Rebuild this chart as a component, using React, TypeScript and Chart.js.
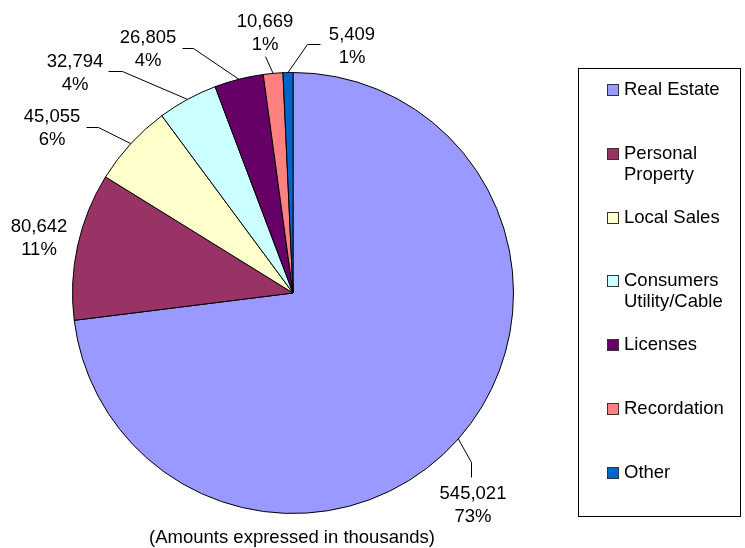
import React, { useEffect, useRef } from "react";
import { Chart, registerables } from "chart.js";

Chart.register(...registerables);

// Revenue categories and amounts (in thousands)
const categories: string[][] = [
  ["Real Estate"],
  ["Personal", "Property"],
  ["Local Sales"],
  ["Consumers", "Utility/Cable"],
  ["Licenses"],
  ["Recordation"],
  ["Other"],
];
const amounts: number[] = [545021, 80642, 45055, 32794, 26805, 10669, 5409];
const sliceColors: string[] = [
  "#9999FF",
  "#993366",
  "#FFFFCC",
  "#CCFFFF",
  "#660066",
  "#FF8080",
  "#0066CC",
];
const footnote = "(Amounts expressed in thousands)";

// Where each value label sits, plus the bend points of its leader line
type LabelSpot = { x: number; y: number; path: [number, number][] };
const labelSpots: LabelSpot[] = [
  { x: 473, y: 505, path: [[471, 462], [471, 477]] },
  { x: 39, y: 238, path: [] },
  { x: 52, y: 128, path: [[98, 127], [86, 127]] },
  { x: 75, y: 73, path: [[122, 71], [108, 71]] },
  { x: 148, y: 49, path: [[193, 48], [182, 48]] },
  { x: 265, y: 33, path: [[265, 56]] },
  { x: 352, y: 46, path: [[307, 44], [320, 44]] },
];

const FONT = "18.5px 'Liberation Sans', Arial, sans-serif";
const fmt = (v: number) => v.toLocaleString("en-US");

const overlayPlugin = {
  id: "overlay",
  afterDraw(chart: any) {
    const ctx: CanvasRenderingContext2D = chart.ctx;
    const meta = chart.getDatasetMeta(0);
    const data: number[] = chart.data.datasets[0].data;
    const total = data.reduce((a, b) => a + b, 0);
    ctx.save();
    ctx.font = FONT;
    ctx.fillStyle = "#000";
    ctx.textAlign = "center";
    ctx.textBaseline = "middle";

    meta.data.forEach((arc: any, i: number) => {
      const { x, y, outerRadius, startAngle, endAngle } = arc.getProps(
        ["x", "y", "outerRadius", "startAngle", "endAngle"],
        true
      );
      const mid = (startAngle + endAngle) / 2;
      const ex = x + Math.cos(mid) * outerRadius;
      const ey = y + Math.sin(mid) * outerRadius;
      const spot = labelSpots[i];
      if (spot.path.length) {
        ctx.beginPath();
        ctx.strokeStyle = "#000";
        ctx.lineWidth = 1;
        ctx.moveTo(ex, ey);
        spot.path.forEach(([px, py]) => ctx.lineTo(px + 0.5, py + 0.5));
        ctx.stroke();
      }
      const pct = Math.round((data[i] / total) * 100) + "%";
      ctx.fillText(fmt(data[i]), spot.x, spot.y - 11.5);
      ctx.fillText(pct, spot.x, spot.y + 11.5);
    });

    // legend box
    ctx.strokeStyle = "#000";
    ctx.lineWidth = 1;
    ctx.strokeRect(578.5, 68.5, 162, 448);
    ctx.textAlign = "left";
    const labels: string[][] = chart.data.labels;
    const colors: string[] = chart.data.datasets[0].backgroundColor;
    labels.forEach((lines, i) => {
      const cy = 90 + i * 63.8;
      ctx.fillStyle = colors[i];
      ctx.fillRect(607, Math.round(cy - 6), 12, 12);
      ctx.strokeStyle = "#333";
      ctx.strokeRect(607.5, Math.round(cy - 6) + 0.5, 11, 11);
      ctx.fillStyle = "#000";
      lines.forEach((ln, j) => ctx.fillText(ln, 624, cy + j * 21));
    });

    // footnote
    ctx.textAlign = "center";
    ctx.fillText(footnote, 292, 538);
    ctx.restore();
  },
};

export default function App() {
  const ref = useRef<HTMLCanvasElement>(null);
  useEffect(() => {
    if (!ref.current) return;
    const chart = new Chart(ref.current, {
      type: "pie",
      data: {
        labels: categories as any,
        datasets: [
          {
            data: amounts,
            backgroundColor: sliceColors,
            borderColor: "#000",
            borderWidth: 1,
          },
        ],
      },
      options: {
        responsive: false,
        animation: false,
        layout: { padding: { left: 72, top: 72, right: 231, bottom: 34 } },
        plugins: {
          legend: { display: false },
          tooltip: { enabled: false },
        },
      },
      plugins: [overlayPlugin],
    });
    return () => chart.destroy();
  }, []);
  return (
    <div style={{ position: "fixed", left: 0, top: 0, width: 745, height: 548, background: "#fff" }}>
      <canvas ref={ref} width={745} height={548} />
    </div>
  );
}
